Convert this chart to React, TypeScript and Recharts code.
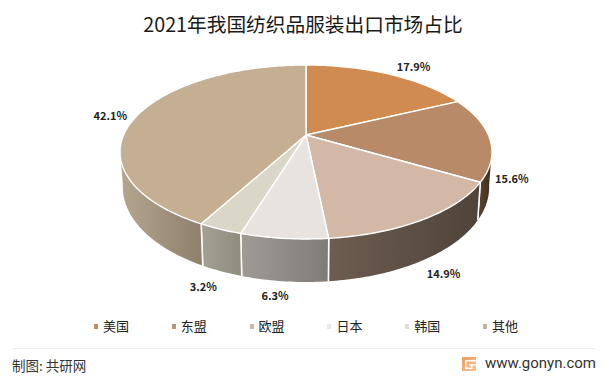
import React from "react";
import { PieChart, Pie, Legend } from "recharts";

const categories = ["美国", "东盟", "欧盟", "日本", "韩国", "其他"];
const shares = [17.9, 15.6, 14.9, 6.3, 3.2, 42.1];
const topColors = ["#D08B50", "#B88A68", "#D2B8A5", "#E8E3DE", "#DAD6C8", "#C5AF92"];
const wallLeft = ["#8a5c34", "#54412f", "#6e5c50", "#a09b94", "#a3a193", "#b5a68f"];
const wallRight = ["#8a5c34", "#3c2c1e", "#4e443b", "#7f7b79", "#8f8d80", "#8f806b"];
const swatches = ["#BC8E68", "#B89478", "#C9B9AB", "#E8E8E6", "#DEDDD6", "#BDB3A0"];
// label shift from the rim point of each slice
const labelShift = [[24, -8], [22, 39], [20, 54], [-9, 57], [-17, 57], [-27, 0]];

const data = categories.map((name, i) => ({ name, value: shares[i] }));

const W = 603;
const H = 376;
const FONT = '"Noto Sans CJK SC", "Noto Sans", sans-serif';
const CX = 306;
const CY = 135;
const RX = 182.4;
const RY = 83.7;
const K = 0.195;

// the chart hands out angles, this tilts them onto the disc
const project = (theta: number) => {
  const t = (theta * Math.PI) / 180;
  const u = Math.sin(t);
  const v = Math.cos(t);
  const d = 1 + K * v;
  return { x: CX + (RX * u) / d, y: CY - (RY * v) / d, v };
};

const lower = (theta: number) => {
  const p = project(theta);
  return { x: CX + (p.x - CX) * 0.985, y: p.y + 33 - 10 * p.v };
};

const arcPoints = (a: number, b: number, fn: (t: number) => { x: number; y: number }) => {
  const n = Math.max(2, Math.ceil(Math.abs(b - a)));
  const out: string[] = [];
  for (let i = 0; i <= n; i++) {
    const p = fn(a + ((b - a) * i) / n);
    out.push(`${p.x.toFixed(2)},${p.y.toFixed(2)}`);
  }
  return out;
};

const Slice = (props: any) => {
  const { startAngle, endAngle, index } = props;
  const a = 90 - startAngle;
  const b = 90 - endAngle;
  const lo = Math.max(a, 100);
  const hi = Math.min(b, 260);
  const top = ["M" + CX + "," + CY, ...arcPoints(a, b, project)].join(" L") + " Z";
  let wall = null;
  if (hi > lo) {
    const upper = arcPoints(lo, hi, project);
    const bottom = arcPoints(hi, lo, lower);
    // clockwise from the top, so hi is the left end of the wall
    const x1 = project(hi).x;
    const x2 = project(lo).x;
    wall = (
      <g>
        <defs>
          <linearGradient id={`wall-${index}`} gradientUnits="userSpaceOnUse" x1={x1} x2={x2} y1={0} y2={0}>
            <stop offset="0%" stopColor={wallLeft[index]} />
            <stop offset="100%" stopColor={wallRight[index]} />
          </linearGradient>
        </defs>
        <path d={"M" + [...upper, ...bottom].join(" L") + " Z"} fill={`url(#wall-${index})`} />
        {[a, b].filter((t) => t >= 100 && t <= 260).map((t) => (
          <line key={t} x1={project(t).x} y1={project(t).y} x2={lower(t).x} y2={lower(t).y} stroke="#fff" strokeWidth={1.5} />
        ))}
      </g>
    );
  }
  return (
    <g>
      {wall}
      <path d={top} fill={topColors[index]} stroke="#fff" strokeWidth={1.4} strokeLinejoin="round" />
    </g>
  );
};

const SliceLabel = (props: any) => {
  const { midAngle, index, value } = props;
  const p = project(90 - midAngle);
  return (
    <text
      x={p.x + labelShift[index][0]}
      y={p.y + labelShift[index][1]}
      textAnchor="middle"
      dominantBaseline="central"
      fontFamily={FONT}
      fontSize={11}
      fontWeight={700}
      fill="#222"
    >
      {value.toFixed(1)}%
    </text>
  );
};

const LegendRow = () => (
  <div style={{ display: "flex", paddingLeft: 94, fontFamily: FONT, fontSize: 13, lineHeight: "18px", color: "#222" }}>
    {categories.map((name, i) => (
      <div key={name} style={{ width: 77.8, display: "flex", alignItems: "center", flexShrink: 0 }}>
        <span style={{ width: 4, height: 5, marginRight: 5, background: swatches[i] }} />
        {name}
      </div>
    ))}
  </div>
);

export default function App() {
  return (
    <div style={{ position: "absolute", left: 0, top: 0, width: W, height: H, background: "#fff", overflow: "hidden" }}>
      <div style={{ position: "absolute", left: 1.5, width: 603, top: 9, textAlign: "center", fontFamily: FONT, fontSize: 19.7, lineHeight: "30px", color: "#1a1a1a" }}>
        2021年我国纺织品服装出口市场占比
      </div>
      <PieChart width={W} height={H} style={{ position: "absolute", left: 0, top: 0 }}>
        <Pie
          data={data}
          dataKey="value"
          nameKey="name"
          cx={CX}
          cy={CY}
          outerRadius={RX}
          startAngle={90}
          endAngle={-270}
          isAnimationActive={false}
          shape={Slice}
          label={SliceLabel}
          labelLine={false}
        />
        <Legend
          content={LegendRow}
          layout="horizontal"
          verticalAlign="top"
          align="left"
          wrapperStyle={{ left: 0, top: 317, width: W }}
        />
      </PieChart>
      <div style={{ position: "absolute", left: 12, width: 584, top: 348, height: 1, background: "#eeeeee" }} />
      <div style={{ position: "absolute", left: 12, top: 355, fontFamily: FONT, fontSize: 13.5, lineHeight: "20px", color: "#333" }}>
        制图: 共研网
      </div>
      <svg style={{ position: "absolute", left: 462, top: 357 }} width={14} height={14}>
        <defs>
          <linearGradient id="logo" x1="0" y1="0" x2="1" y2="1">
            <stop offset="0%" stopColor="#EE9A5C" />
            <stop offset="100%" stopColor="#F3C59B" />
          </linearGradient>
        </defs>
        <rect x={0} y={0} width={14} height={14} fill="url(#logo)" />
        <path d="M3 3 H14 V4.5 H4.5 V10.5 H9 V8.5 H7 V7 H14 V8.5 H10.5 V12 H3 Z" fill="#fff" />
      </svg>
      <div style={{ position: "absolute", left: 485, top: 352, fontFamily: "Roboto, sans-serif", fontSize: 15, lineHeight: "22px", color: "#333", whiteSpace: "nowrap" }}>
        www.gonyn.com
      </div>
    </div>
  );
}
